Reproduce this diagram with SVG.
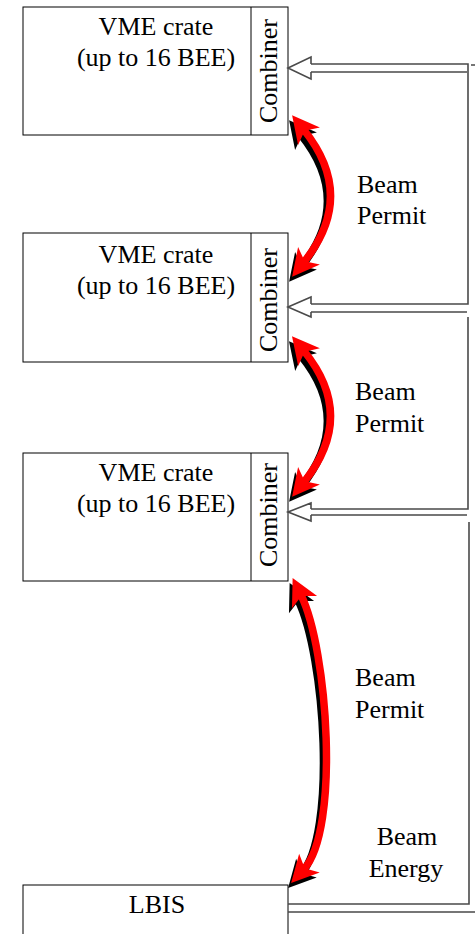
<svg xmlns="http://www.w3.org/2000/svg" width="475" height="934" viewBox="0 0 475 934">
<style>
.box{fill:#fff;stroke:#000;stroke-width:1}
.t{font-family:"Liberation Serif","Times New Roman",serif;font-size:26px;fill:#000}
.m{text-anchor:middle}
.ch{fill:none;stroke:#4a4a4a;stroke-width:1.6}
.red{fill:none;stroke:#ff0000;stroke-width:7.5}
.blk{fill:none;stroke:#000;stroke-width:7.5}
</style>
<defs>
<marker id="hr" markerUnits="userSpaceOnUse" orient="auto-start-reverse" refX="0" refY="0" markerWidth="40" markerHeight="40" overflow="visible">
<path d="M19,0 L-8,-14 L-1,0 L-8,14 Z" fill="#ff0000"/>
</marker>
<marker id="hb" markerUnits="userSpaceOnUse" orient="auto-start-reverse" refX="0" refY="0" markerWidth="40" markerHeight="40" overflow="visible">
<path d="M19,0 L-8,-14 L-1,0 L-8,14 Z" fill="#000"/>
</marker>
</defs>
<rect width="475" height="934" fill="#fff"/>

<g id="crate1">
<rect class="box" x="23" y="7" width="265" height="128"/>
<line x1="251" y1="7" x2="251" y2="135" stroke="#000"/>
<text class="t m" x="156" y="35">VME crate</text>
<text class="t m" x="156" y="66">(up to 16 BEE)</text>
<text class="t m" transform="translate(277,71) rotate(-90)">Combiner</text>
</g>
<g id="crate2">
<rect class="box" x="23" y="233" width="265" height="129"/>
<line x1="251" y1="233" x2="251" y2="362" stroke="#000"/>
<text class="t m" x="156" y="263">VME crate</text>
<text class="t m" x="156" y="294">(up to 16 BEE)</text>
<text class="t m" transform="translate(277,300) rotate(-90)">Combiner</text>
</g>
<g id="crate3">
<rect class="box" x="23" y="453" width="265" height="128"/>
<line x1="251" y1="453" x2="251" y2="581" stroke="#000"/>
<text class="t m" x="156" y="481">VME crate</text>
<text class="t m" x="156" y="512">(up to 16 BEE)</text>
<text class="t m" transform="translate(277,515) rotate(-90)">Combiner</text>
</g>
<g id="lbis">
<rect class="box" x="23" y="885" width="265" height="60"/>
<text class="t m" x="157" y="913">LBIS</text>
</g>

<g id="connectors">
<g id="beam-energy-channel">
<path class="ch" d="M471,65 L475,65 M311,64 L468,64 L468,304 L311,304 M311,72 L467,72 M311,64 L311,57 L288,68 L311,79 L311,72"/>
<path class="ch" d="M311,312 L467,312 M468,317 L468,509 L311,509 M311,304 L311,297 L288,307 L311,317 L311,312"/>
<path class="ch" d="M311,515 L467,515 M469,522 L469,904 L288,904 M288,912 L475,912 M311,509 L311,503 L288,512 L311,521 L311,515"/>
</g>
<g id="permit-arrows">
<g transform="translate(-3,5)">
<path class="blk" d="M304,130 Q357,196 304,262" marker-start="url(#hb)" marker-end="url(#hb)"/>
<path class="blk" d="M304,351 Q357,416 304,482" marker-start="url(#hb)" marker-end="url(#hb)"/>
<path class="blk" d="M301,595 C328,650 340,830 304,869" marker-start="url(#hb)" marker-end="url(#hb)"/>
</g>
<path class="red" d="M304,130 Q357,196 304,262" marker-start="url(#hr)" marker-end="url(#hr)"/>
<path class="red" d="M304,351 Q357,416 304,482" marker-start="url(#hr)" marker-end="url(#hr)"/>
<path class="red" d="M301,595 C328,650 340,830 304,869" marker-start="url(#hr)" marker-end="url(#hr)"/>
</g>
</g>

<g id="labels">
<text class="t" x="357" y="193">Beam</text>
<text class="t" x="357" y="224">Permit</text>
<text class="t" x="355" y="400">Beam</text>
<text class="t" x="355" y="432">Permit</text>
<text class="t" x="355" y="686">Beam</text>
<text class="t" x="355" y="718">Permit</text>
<text class="t m" x="407" y="845">Beam</text>
<text class="t m" x="406" y="877">Energy</text>
</g>
</svg>
